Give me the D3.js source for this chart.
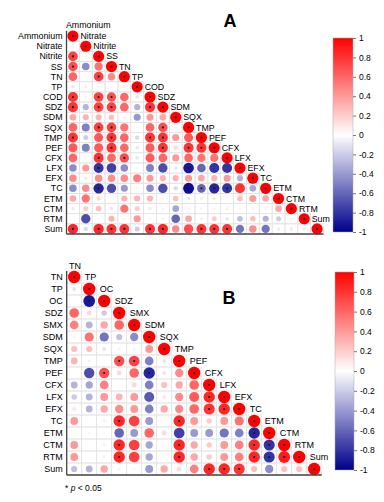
<!DOCTYPE html>
<html><head><meta charset="utf-8">
<script src="https://cdn.jsdelivr.net/npm/d3@7"></script>
<style>body{margin:0;background:#fff} svg{display:block} text{font-family:Arial,"Liberation Sans",sans-serif;fill:#000}</style>
</head><body><svg id="c" width="384" height="502"></svg>
<script>
// ---------- Panel A data ----------
const varsA = ["Ammonium","Nitrate","Nitrite","SS","TN","TP","COD","SDZ","SDM","SQX","TMP","PEF","CFX","LFX","EFX","TC","ETM","CTM","RTM","Sum"];
const corrA = [
  [1],
  [-0.05,1],
  [0.75,0.03,1],
  [0.7,-0.45,0.55,1],
  [0.6,0,0.75,0.45,1],
  [-0.1,0.08,0.05,0.05,0.08,1],
  [0.8,-0.05,0.75,0.7,0.6,-0.1,1],
  [0.8,-0.3,0.75,0.75,0.6,-0.3,0.8,1],
  [0.35,0.3,0.3,0.25,0.05,-0.4,0.4,0.35,1],
  [0.6,-0.5,0.75,0.75,0.55,0.02,0.6,0.7,0.05,1],
  [0.8,-0.2,0.65,0.8,0.6,-0.15,0.8,0.8,0.4,0.65,1],
  [0.65,-0.5,0.65,0.8,0.6,-0.1,0.65,0.8,0.15,0.8,0.8,1],
  [0.6,0.03,0.8,0.6,0.7,-0.1,0.65,0.6,0.4,0.6,0.55,0.55,1],
  [-0.45,0.4,-0.8,-0.75,-0.45,0.05,-0.5,-0.7,-0.1,-0.9,-0.6,-0.8,-0.8,1],
  [0.45,0.1,0.45,0.45,0.45,0.5,0.4,0.3,0.3,0.4,0.35,0.3,0.4,-0.3,1],
  [-0.45,0.45,-0.85,-0.7,-0.4,0.05,-0.45,-0.7,-0.15,-0.95,-0.6,-0.85,-0.8,0.8,-0.35,1],
  [0.35,0.55,0.15,0,0.3,0.3,0.3,0.03,0.25,-0.1,0.08,-0.08,0.03,0.25,0.4,0.35,1],
  [0.1,0.2,0.25,-0.1,0.55,0.2,0.1,0.05,-0.35,0.05,0.05,0.05,0.08,0.05,0.05,0.05,0.35,1],
  [0.02,-0.7,0.03,0.3,0.05,0.4,0.05,0.05,-0.6,0.35,0.08,0.2,-0.1,-0.25,0.25,-0.3,-0.2,0.05,1],
  [0.85,-0.15,0.85,0.8,0.8,-0.2,0.8,0.85,0.45,0.7,0.8,0.8,0.8,-0.55,0.45,-0.55,0.1,0.1,-0.08,1]
];
// significant (p<0.05) off-diagonal cells: column indices per row
const sigA = [[],[],[0],[0],[2],[],[0,2,3],[0,2,3,6],[],[2,3,7],[0,3,6,7],[3,7,9,10],[2,4],[2,9],[],[2,9,10,11,12],[],[],[],[0,2,3,4,6,7,10,11,12]];

// ---------- Panel B data ----------
const varsB = ["TN","TP","OC","SDZ","SMX","SDM","SQX","TMP","PEF","CFX","LFX","EFX","TC","ETM","CTM","RTM","Sum"];
const corrB = [
  [1],
  [-0.1,1],
  [0,-0.9,1],
  [0.6,0.15,-0.2,1],
  [0.5,-0.3,0.35,0.6,1],
  [0.05,0.55,-0.55,-0.25,-0.45,1],
  [0.25,0.25,-0.1,0.05,-0.05,0.4,1],
  [0.3,-0.05,0.02,0.7,0.75,-0.5,-0.1,1],
  [0,-0.7,0.7,0.15,0.6,-0.85,-0.1,0.45,1],
  [-0.3,-0.35,0.5,0.02,0.15,-0.5,0.25,0.35,0.6,1],
  [-0.2,-0.3,0.4,0.3,0.4,-0.65,0.1,0.45,0.65,0.85,1],
  [0.1,-0.3,0.35,0.45,0.4,-0.5,0.35,0.45,0.6,0.8,0.85,1],
  [0.4,0,-0.05,0.85,0.75,-0.4,0.02,0.85,0.4,0.2,0.4,0.55,1],
  [0,0.05,0.03,-0.6,-0.4,0.6,0.15,-0.75,-0.4,-0.4,-0.55,-0.5,-0.85,1],
  [0.4,0,-0.05,0.85,0.75,-0.35,0.02,0.85,0.35,0.2,0.4,0.5,0.85,-0.8,1],
  [0.4,0,-0.05,0.85,0.75,-0.35,0.02,0.85,0.35,0.2,0.4,0.5,0.85,-0.8,0.9,1],
  [-0.25,-0.3,0.35,0.05,0.05,-0.4,0.35,0.15,0.5,0.85,0.85,0.8,0.25,-0.45,0.25,0.25,1]
];
const sigB = [[],[],[1],[],[],[],[],[3,4],[2,5],[],[9],[9,10],[3,7],[12],[3,7,12,13],[3,7,12,13,14],[9,10,11]];

const barTicks = [1,0.8,0.6,0.4,0.2,0,-0.2,-0.4,-0.6,-0.8,-1];

// ---------- drawing ----------
const svg = d3.select("#c");
const color = d3.scaleLinear().domain([-1,0,1]).range(["#00008B","#FFFFFF","#FF0000"]).interpolate(d3.interpolateRgb);

const defs = svg.append("defs");
const grad = defs.append("linearGradient").attr("id","cb").attr("x1",0).attr("y1",0).attr("x2",0).attr("y2",1);
d3.range(0,1.0001,0.05).forEach(t => grad.append("stop").attr("offset",t).attr("stop-color",color(1-2*t)));

function panel(cfg){
  const {vars, corr, sig} = cfg;
  const g = svg.append("g");
  const x = d3.scaleBand().domain(vars).range([cfg.x0, cfg.x1]).padding(0);
  const y = d3.scaleBand().domain(vars).range([cfg.y0, cfg.y1]).padding(0);
  const r = d3.scaleSqrt().domain([0,1]).range([0,cfg.rmax]);
  const cells = [];
  corr.forEach((row,i)=>row.forEach((v,j)=>cells.push({i,j,v,s: i===j || sig[i].includes(j)})));
  // grid
  g.selectAll("rect.cell").data(cells).join("rect").attr("class","cell")
    .attr("x",d=>x(vars[d.j])).attr("y",d=>y(vars[d.i]))
    .attr("width",x.bandwidth()).attr("height",y.bandwidth())
    .attr("fill","none").attr("stroke","#e2e2e2").attr("stroke-width",0.7);
  // circles
  g.selectAll("circle.c").data(cells).join("circle").attr("class","c")
    .attr("cx",d=>x(vars[d.j])+x.bandwidth()/2).attr("cy",d=>y(vars[d.i])+y.bandwidth()/2)
    .attr("r",d=>r(Math.abs(d.v))).attr("fill",d=>color(d.v));
  // significance marks
  g.selectAll("circle.s").data(cells.filter(d=>d.s)).join("circle").attr("class","s")
    .attr("cx",d=>x(vars[d.j])+x.bandwidth()/2).attr("cy",d=>y(vars[d.i])+y.bandwidth()/2)
    .attr("r",1.1).attr("fill","#1a1a1a");
  // axis lines
  g.append("line").attr("x1",cfg.x0).attr("x2",cfg.x0).attr("y1",cfg.y0).attr("y2",cfg.y1).attr("stroke","#444").attr("stroke-width",1.3);
  g.append("line").attr("x1",cfg.x0).attr("x2",cfg.x1).attr("y1",cfg.y1).attr("y2",cfg.y1).attr("stroke","#444").attr("stroke-width",1.3);
  // row labels
  g.selectAll("text.row").data(vars).join("text").attr("class","row")
    .attr("x",cfg.x0-4).attr("y",d=>y(d)+y.bandwidth()/2).attr("dy","0.35em")
    .attr("text-anchor","end").attr("font-size",cfg.fs).text(d=>d);
  // diagonal labels
  g.selectAll("text.diag").data(vars.slice(1)).join("text").attr("class","diag")
    .attr("x",(d,k)=>x(vars[k])+x.bandwidth()/2+cfg.off).attr("y",(d,k)=>y(vars[k])+y.bandwidth()/2).attr("dy","0.35em")
    .attr("font-size",cfg.fs).text(d=>d);
  g.append("text").attr("x",cfg.topX).attr("y",cfg.topY).attr("font-size",cfg.fs).text(vars[0]);
  // title
  g.append("text").attr("x",cfg.titleX).attr("y",cfg.titleY).attr("text-anchor","middle")
    .attr("font-size",18).attr("font-weight","bold").text(cfg.title);
  // colour bar
  const b = cfg.bar;
  g.append("rect").attr("x",b.x).attr("y",b.y0).attr("width",b.w).attr("height",b.y1-b.y0)
    .attr("fill","url(#cb)").attr("stroke","#aaa").attr("stroke-width",0.5);
  const cs = d3.scaleLinear().domain([-1,1]).range([b.y1,b.y0]);
  const ax = g.append("g").attr("transform",`translate(${b.x+b.w},0)`)
    .call(d3.axisRight(cs).tickValues(barTicks).tickSize(3).tickPadding(3).tickFormat(d=>String(+d.toFixed(1))));
  ax.select(".domain").remove();
  ax.selectAll(".tick line").attr("stroke","#777");
  ax.selectAll(".tick text").attr("font-size",8.5).attr("font-family","Arial, Liberation Sans, sans-serif").attr("fill","#000");
}

panel({vars:varsA, corr:corrA, sig:sigA, x0:66.5, x1:323.5, y0:31, y1:234, rmax:5.6, fs:8.8, off:7.5,
  topX:66, topY:28, title:"A", titleX:230, titleY:27, bar:{x:333, w:20, y0:38, y1:232}});
panel({vars:varsB, corr:corrB, sig:sigB, x0:66.7, x1:321.7, y0:271, y1:475, rmax:6.2, fs:9, off:10.5,
  topX:69, topY:269, title:"B", titleX:229, titleY:304, bar:{x:335, w:19, y0:272, y1:470}});

// footnote
const fn = svg.append("text").attr("x",65).attr("y",491).attr("font-size",8.5);
fn.append("tspan").text("* ");
fn.append("tspan").attr("font-style","italic").text("p");
fn.append("tspan").text(" < 0.05");
</script></body></html>
